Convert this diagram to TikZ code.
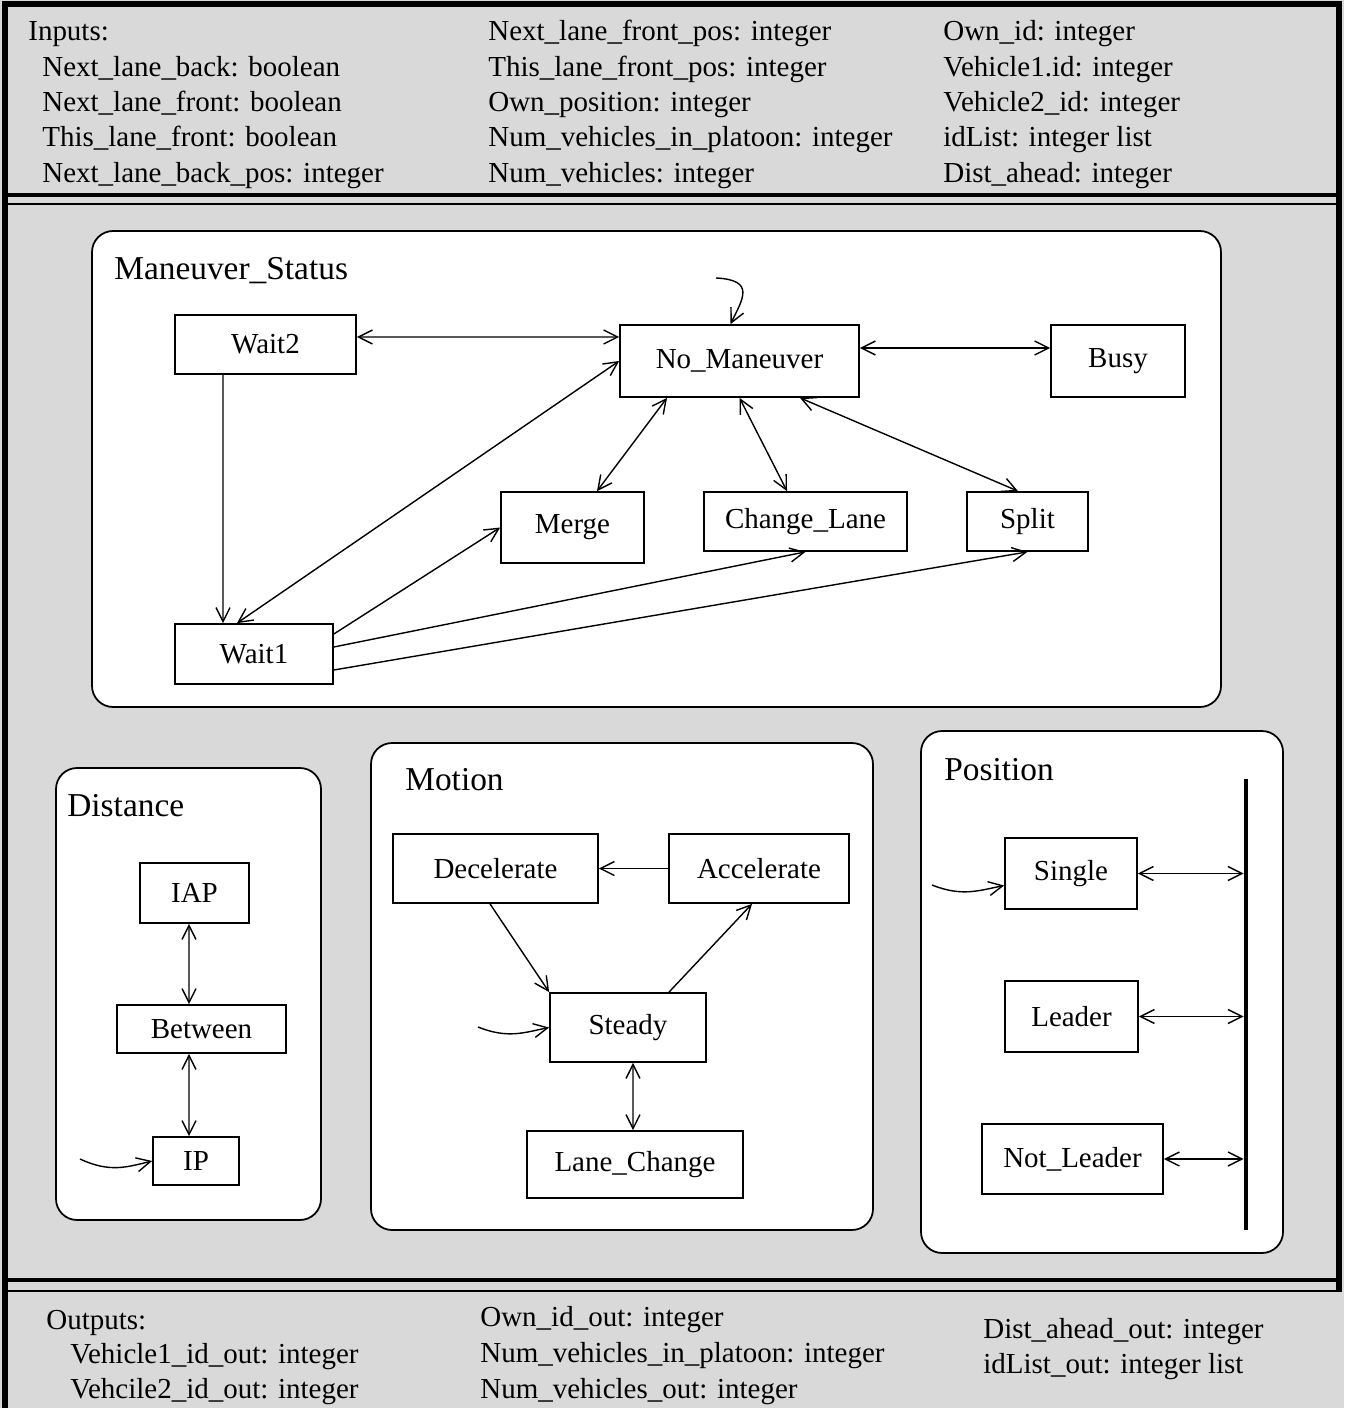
\documentclass[tikz,border=0pt]{standalone}
\usepackage{fontspec}
\setmainfont{Liberation Serif}
\usetikzlibrary{arrows.meta}

\begin{document}
\begin{tikzpicture}[x=0.02cm,y=-0.02cm,>={Straight Barb[length=2.8mm,width=2.8mm]}]
        \tikzstyle{state}=[draw,line width=1pt,fill=white,inner sep=0pt,font=\fontsize{16.5}{20}\selectfont]
        \tikzstyle{io}=[anchor=base west,inner sep=0pt,font=\fontsize{16.5}{20}\selectfont]
        \tikzstyle{title}=[anchor=base west,inner sep=0pt,font=\fontsize{19}{23}\selectfont]
        \tikzstyle{group}=[draw,line width=1pt,fill=white,rounded corners=12pt]
        \tikzstyle{edge}=[draw,line width=0.8pt]

        \useasboundingbox (0,0) rectangle (1344,1408);
        \fill[black!15] (0,0) rectangle (1344,1408);
        % frame
        \draw[line width=3pt] (5,1408) -- (5,4) -- (1339,4) -- (1339,1292);
        \draw[line width=2.5pt] (5,195) -- (1339,195);
        \draw[line width=1.2pt] (5,204) -- (1339,204);
        \draw[line width=2.5pt] (5,1280) -- (1339,1280);
        \draw[line width=1.2pt] (5,1291) -- (1339,1291);

        % inputs
        \node[io] (in0) at (28,41) {Inputs:};
        \node[io] (in1) at (42,77) {Next\_lane\_back: boolean};
        \node[io] (in2) at (42,112) {Next\_lane\_front: boolean};
        \node[io] (in3) at (42,147) {This\_lane\_front: boolean};
        \node[io] (in4) at (42,183) {Next\_lane\_back\_pos: integer};
        \node[io] (in5) at (488,41) {Next\_lane\_front\_pos: integer};
        \node[io] (in6) at (488,77) {This\_lane\_front\_pos: integer};
        \node[io] (in7) at (488,112) {Own\_position: integer};
        \node[io] (in8) at (488,147) {Num\_vehicles\_in\_platoon: integer};
        \node[io] (in9) at (488,183) {Num\_vehicles: integer};
        \node[io] (in10) at (943,41) {Own\_id: integer};
        \node[io] (in11) at (943,77) {Vehicle1.id: integer};
        \node[io] (in12) at (943,112) {Vehicle2\_id: integer};
        \node[io] (in13) at (943,147) {idList: integer list};
        \node[io] (in14) at (943,183) {Dist\_ahead: integer};

        % outputs
        \node[io] (out0) at (46,1329) {Outputs:};
        \node[io] (out1) at (70,1363) {Vehicle1\_id\_out: integer};
        \node[io] (out2) at (70,1398) {Vehcile2\_id\_out: integer};
        \node[io] (out3) at (480,1326) {Own\_id\_out: integer};
        \node[io] (out4) at (480,1362) {Num\_vehicles\_in\_platoon: integer};
        \node[io] (out5) at (480,1398) {Num\_vehicles\_out: integer};
        \node[io] (out6) at (983,1338) {Dist\_ahead\_out: integer};
        \node[io] (out7) at (983,1373) {idList\_out: integer list};

        % Maneuver_Status
        \draw[group] (92,231) rectangle (1221,707);
        \node[title] (tmanv) at (114,280) {Maneuver\_Status};
        \node[state,minimum width=3.62cm,minimum height=1.18cm] (wait2) at (265.5,344.5) {Wait2};
        \node[state,minimum width=4.78cm,minimum height=1.44cm] (nomanv) at (739.5,361) {No\_Maneuver};
        \node[state,minimum width=2.68cm,minimum height=1.44cm] (busy) at (1118,361) {Busy};
        \node[state,minimum width=2.86cm,minimum height=1.42cm] (merge) at (572.5,527.5) {Merge};
        \node[state,minimum width=4.06cm,minimum height=1.18cm] (chglane) at (805.5,521.5) {Change\_Lane};
        \node[state,minimum width=2.42cm,minimum height=1.18cm] (split) at (1027.5,521.5) {Split};
        \node[state,minimum width=3.16cm,minimum height=1.2cm] (wait1) at (254,654) {Wait1};

        \path[edge] ([yshift=0.15cm]wait2.east) edge[<->] ([yshift=0.48cm]nomanv.west);
        \path[edge] ([xshift=-0.85cm]wait2.south) edge[->] ([xshift=-0.62cm]wait1.north);
        \path[edge] (nomanv.west) edge[<->] ([xshift=-0.34cm]wait1.north);
        \path[edge] ([yshift=0.4cm]wait1.east) edge[->] (merge.west);
        \path[edge] ([yshift=0.14cm]wait1.east) edge[->] (chglane.south);
        \path[edge] ([yshift=-0.32cm]wait1.east) edge[->] (split.south);
        \path[edge] ([xshift=-1.45cm]nomanv.south) edge[<->] ([xshift=0.49cm]merge.north);
        \path[edge] (nomanv.south) edge[<->] ([xshift=-0.37cm]chglane.north);
        \path[edge] ([xshift=1.21cm]nomanv.south) edge[<->] ([xshift=-0.19cm]split.north);
        \path[edge] ([yshift=0.26cm]nomanv.east) edge[<->] ([yshift=0.26cm]busy.west);
        \coordinate (loopin) at (716,278);
        \draw[edge,->] (loopin) .. controls +(40,2) and +(12,-25) .. ([xshift=-0.18cm]nomanv.north);

        % Distance
        \draw[group] (56,768) rectangle (321,1220);
        \node[title] (tdist) at (67,816) {Distance};
        \node[state,minimum width=2.18cm,minimum height=1.2cm] (iap) at (194.5,893) {IAP};
        \node[state,minimum width=3.38cm,minimum height=0.96cm] (between) at (201.5,1029) {Between};
        \node[state,minimum width=1.72cm,minimum height=0.96cm] (ip) at (196,1161) {IP};
        \path[edge] ([xshift=-0.11cm]iap.south) edge[<->] ([xshift=-0.25cm]between.north);
        \path[edge] ([xshift=-0.25cm]between.south) edge[<->] ([xshift=-0.14cm]ip.north);
        \coordinate (ipin) at (80,1159);
        \draw[edge,->] (ipin) .. controls +(30,14) and +(-25,6) .. (ip.west);

        % Motion
        \draw[group] (371,743) rectangle (873,1230);
        \node[title] (tmotion) at (405,790) {Motion};
        \node[state,minimum width=4.1cm,minimum height=1.38cm] (decel) at (495.5,868.5) {Decelerate};
        \node[state,minimum width=3.6cm,minimum height=1.38cm] (accel) at (759,868.5) {Accelerate};
        \node[state,minimum width=3.12cm,minimum height=1.38cm] (steady) at (628,1027.5) {Steady};
        \node[state,minimum width=4.32cm,minimum height=1.34cm] (lanechg) at (635,1164.5) {Lane\_Change};
        \path[edge] (accel.west) edge[->] (decel.east);
        \path[edge] ([xshift=-0.11cm]decel.south) edge[->] (steady.north west);
        \path[edge] ([xshift=0.82cm]steady.north) edge[->] ([xshift=-0.14cm]accel.south);
        \path[edge] ([xshift=0.1cm]steady.south) edge[<->] ([xshift=-0.04cm]lanechg.north);
        \coordinate (stin) at (478,1027);
        \draw[edge,->] (stin) .. controls +(30,12) and +(-25,5) .. (steady.west);

        % Position
        \draw[group] (921,731) rectangle (1283,1253);
        \node[title] (tpos) at (944,780) {Position};
        \node[state,minimum width=2.64cm,minimum height=1.42cm] (single) at (1071,873.5) {Single};
        \node[state,minimum width=2.66cm,minimum height=1.42cm] (leader) at (1071.5,1016.5) {Leader};
        \node[state,minimum width=3.62cm,minimum height=1.4cm] (notlead) at (1072.5,1159) {Not\_Leader};
        \coordinate (bartop) at (1246,779);
        \coordinate (barbot) at (1246,1230);
        \draw[line width=2.8pt] (bartop) -- (barbot);
        \path[edge] (single.east) edge[<->] ([xshift=-1.4pt]single.east -| bartop);
        \path[edge] (leader.east) edge[<->] ([xshift=-1.4pt]leader.east -| bartop);
        \path[edge] (notlead.east) edge[<->] ([xshift=-1.4pt]notlead.east -| bartop);
        \coordinate (sgin) at (932,885);
        \draw[edge,->] (sgin) .. controls +(30,12) and +(-25,5) .. ([yshift=-0.24cm]single.west);
\end{tikzpicture}
\end{document}
